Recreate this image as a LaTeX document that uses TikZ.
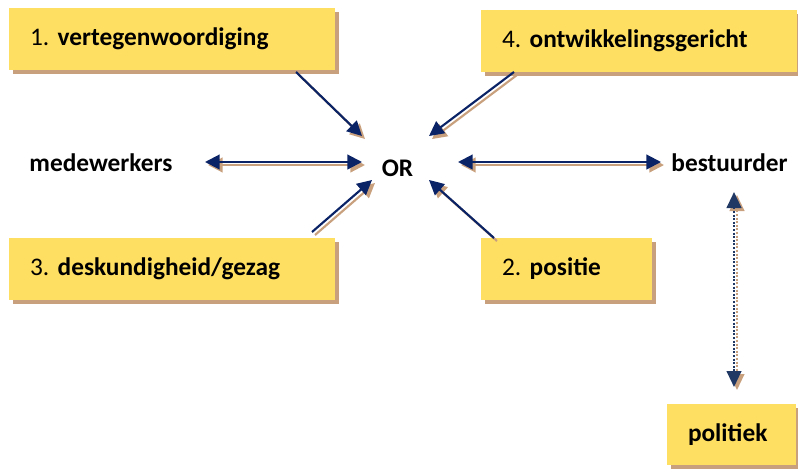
\documentclass[tikz,border=0pt]{standalone}
\usepackage{fontspec}
\setmainfont{Carlito}
\usetikzlibrary{arrows.meta,shadows}
\definecolor{boxyellow}{HTML}{FFDF61}
\definecolor{shadowtan}{HTML}{C9A07E}
\definecolor{navy}{HTML}{0A2366}
\definecolor{darknavy}{HTML}{1F3864}
\frenchspacing
\begin{document}
\frenchspacing
\begin{tikzpicture}[x=0.75pt,y=-0.75pt,
  every node/.style={font=\fontsize{19pt}{22pt}\selectfont},
  box/.style={fill=boxyellow, minimum height=46.5pt, inner xsep=15.75pt, align=left,
    drop shadow={shadow xshift=3pt, shadow yshift=-3pt, fill=shadowtan, opacity=1}},
  lbl/.style={inner sep=0pt, font=\fontsize{19pt}{22pt}\selectfont\bfseries},
  conn/.style={draw=navy, line width=1.6pt, -{Triangle[length=11pt,width=11pt]}},
  dconn/.style={draw=navy, line width=1.6pt, {Triangle[length=11pt,width=11pt]}-{Triangle[length=11pt,width=11pt]}},
  vconn/.style={draw=darknavy, line width=1.6pt, dash pattern=on 1.5pt off 1.2pt,
    {Triangle[length=12pt,width=11pt]}-{Triangle[length=12pt,width=11pt]}},
  shad/.style={draw=shadowtan, transform canvas={shift={(3,3)}}}
]
\useasboundingbox (0,0) rectangle (798,468);

% boxes
\node[box, minimum width=244.5pt, text width=213pt] (b1) at (172,39) {1. \textbf{vertegenwoordiging}};
\node[box, minimum width=237pt, text width=205.5pt] (b4) at (639,41) {4. \textbf{ontwikkelingsgericht}};
\node[box, minimum width=244.5pt, text width=213pt] (b3) at (172,269) {3. \textbf{deskundigheid/gezag}};
\node[box, minimum width=128.25pt, text width=96.75pt] (b2) at (566.5,269) {2. \textbf{positie}};
\node[box, minimum width=96.75pt, minimum height=45.75pt, text width=65.25pt] (pol) at (731.5,434.5) {\textbf{politiek}};

% labels
\node[lbl] (med) at (101,163) {medewerkers};
\node[lbl] (or) at (397.5,168) {OR};
\node[lbl] (best) at (729.5,163) {bestuurder};

% connector end points
\coordinate (s1) at (296,72);  \coordinate (t1) at (362,136);
\coordinate (s4) at (514,72);  \coordinate (t4) at (429,136);
\coordinate (s3) at (312,232); \coordinate (t3) at (372,180);
\coordinate (s2) at (494,238); \coordinate (t2) at (429,180);
\coordinate (hl1) at (205,162); \coordinate (hl2) at (362,162);
\coordinate (hr1) at (458,162); \coordinate (hr2) at (661,162);
\coordinate (v1) at (734,192); \coordinate (v2) at (734,387);

% shadows
\draw[conn, shad] (s1) -- (t1);
\draw[conn, shad] (s4) -- (t4);
\draw[conn, shad] (s3) -- (t3);
\draw[conn, shad] (s2) -- (t2);
\draw[dconn, shad] (hl1) -- (hl2);
\draw[dconn, shad] (hr1) -- (hr2);
\draw[vconn, shad] (v1) -- (v2);

% connectors
\draw[conn] (s1) -- (t1);
\draw[conn] (s4) -- (t4);
\draw[conn] (s3) -- (t3);
\draw[conn] (s2) -- (t2);
\draw[dconn] (hl1) -- (hl2);
\draw[dconn] (hr1) -- (hr2);
\draw[vconn] (v1) -- (v2);
\end{tikzpicture}
\end{document}
